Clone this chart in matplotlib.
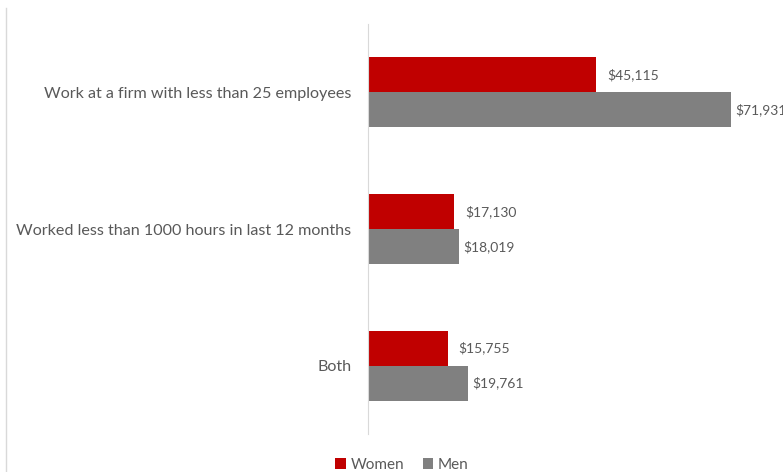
import matplotlib.pyplot as plt
import numpy as np
from matplotlib.lines import Line2D

categories = ["Work at a firm with less than 25 employees",
              "Worked less than 1000 hours in last 12 months",
              "Both"]
women = [45115, 17130, 15755]
men = [71931, 18019, 19761]

plt.rcParams['font.family'] = ['Lato', 'DejaVu Sans']
text_color = '#595959'

fig = plt.figure(figsize=(7.83, 4.72), dpi=100)
ax = fig.add_axes([368 / 783, 38 / 472, 415 / 783, 410 / 472])

y = np.arange(len(categories))
h = 0.256
ax.barh(y - h / 2, women, height=h, color='#c00000', label='Women')
ax.barh(y + h / 2, men, height=h, color='#808080', label='Men')

for yi, w, m in zip(y, women, men):
    ax.annotate(f"${w:,}", (w, yi - h / 2), xytext=(8, 0), textcoords='offset points',
                va='center', ha='left', fontsize=10, color=text_color)
    ax.annotate(f"${m:,}", (m, yi + h / 2), xytext=(3, 0), textcoords='offset points',
                va='center', ha='left', fontsize=10, color=text_color)

ax.set_xlim(0, 82230)
ax.set_ylim(2.5, -0.5)
ax.set_yticks(y)
ax.set_yticklabels(categories, fontsize=11.6, color=text_color)
ax.tick_params(axis='y', length=0, pad=12)
ax.set_xticks([])
for s in ['top', 'right', 'bottom']:
    ax.spines[s].set_visible(False)
ax.spines['left'].set_color('#d9d9d9')

fig.add_artist(Line2D([6 / 783, 6 / 783], [0, 464 / 472], color='#d9d9d9', lw=1))

leg = fig.legend(loc='center', bbox_to_anchor=(402 / 783, 7 / 472), ncol=2, frameon=False,
                 fontsize=11, handlelength=0.7, handleheight=0.7, columnspacing=1.2,
                 handletextpad=0.3, labelcolor=text_color)

fig.savefig('out.png', dpi=100)
